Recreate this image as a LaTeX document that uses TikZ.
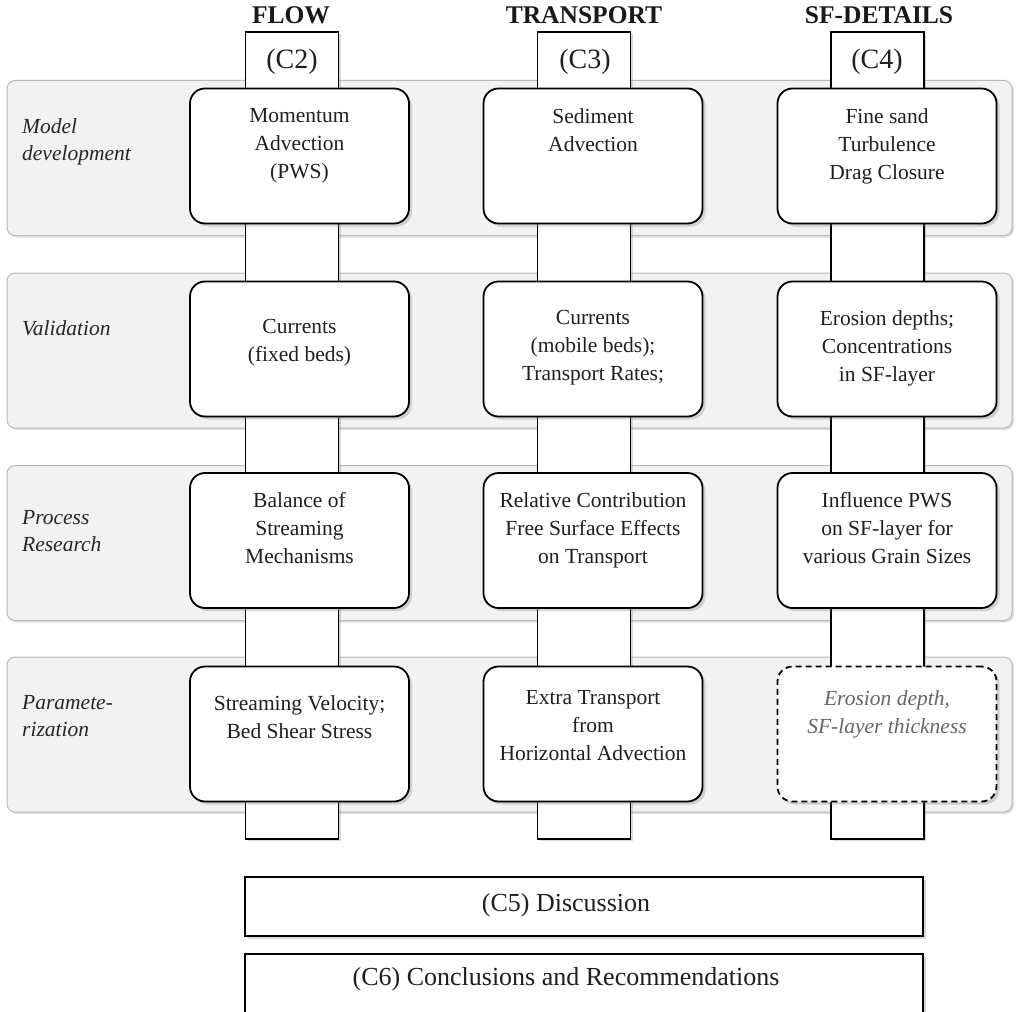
\documentclass[tikz,border=0pt]{standalone}
\usepackage{fontspec}
\setmainfont{Liberation Serif}
\usetikzlibrary{shadows}
\begin{document}
\begin{tikzpicture}[x=1pt,y=-1pt,
  panel/.style={draw=gray!55, line width=1pt, fill=gray!10, rounded corners=8pt, inner sep=0pt,
    minimum width=1005pt, minimum height=155pt,
    drop shadow={shadow xshift=2pt, shadow yshift=-2pt, opacity=0.25}},
  colbar/.style={draw=black, line width=1.8pt, fill=white, inner sep=0pt,
    minimum width=93pt, minimum height=807pt,
    drop shadow={shadow xshift=2pt, shadow yshift=-2pt, opacity=0.3}},
  taskbox/.style={draw=black, line width=1.8pt, fill=white, rounded corners=15pt, inner sep=0pt,
    minimum width=219pt, minimum height=135pt,
    drop shadow={shadow xshift=3pt, shadow yshift=-3pt, opacity=0.3}},
  openbox/.style={taskbox, dashed, dash pattern=on 6pt off 4pt, line width=1.8pt},
  wide/.style={draw=black, line width=2.2pt, fill=white, inner sep=0pt,
    minimum width=678pt,
    drop shadow={shadow xshift=3pt, shadow yshift=-3pt, opacity=0.3}},
  txt/.style={inner sep=0pt, align=center, text=black!88,
    font=\fontsize{21.5}{28}\selectfont,
    execute at begin node=\strut, execute at end node=\strut},
  grytxt/.style={txt, text=black!60, font=\fontsize{21.5}{28}\selectfont\itshape},
  rowlab/.style={inner sep=0pt, align=left, anchor=west, text=black!85,
    font=\fontsize{21.5}{27}\selectfont\itshape,
    execute at begin node=\strut, execute at end node=\strut},
  head/.style={inner sep=0pt, text=black!90, font=\fontsize{25.5}{30}\selectfont\bfseries},
  chap/.style={inner sep=0pt, text=black!88, font=\fontsize{28}{32}\selectfont},
  widetxt/.style={inner sep=0pt, text=black!88, font=\fontsize{26}{30}\selectfont}
]
\useasboundingbox (0,0) rectangle (1016,1011);

% row panels
\node[panel] (p1) at (509.5,158) {};
\node[panel] (p2) at (509.5,350.5) {};
\node[panel] (p3) at (509.5,543) {};
\node[panel] (p4) at (509.5,734.5) {};

% column bars
\node[colbar] (bflow) at (292,435.5) {};
\node[colbar] (btrans) at (584,435.5) {};
\node[colbar] (bsf) at (877.5,435.5) {};

% headers
\node[head] (hflow) at (291,15) {FLOW};
\node[head] (htrans) at (584,15) {TRANSPORT};
\node[head] (hsf) at (879,15) {SF-DETAILS};
\node[chap] (c2) at (292,62) {(C2)};
\node[chap] (c3) at (585,62) {(C3)};
\node[chap] (c4) at (877,62) {(C4)};

% row labels
\node[rowlab] (l1) at (22,144) {Model\\development};
\node[rowlab] (l2) at (22,330) {Validation};
\node[rowlab] (l3) at (22,535) {Process\\Research};
\node[rowlab] (l4) at (22,720) {Paramete-\\rization};

% row 1
\node[taskbox] (f1) at (299.5,156) {};
\node[taskbox] (t1) at (593,156) {};
\node[taskbox] (s1) at (887,156) {};
\node[txt] (f1t) at (299.5,148) {Momentum\\Advection\\(PWS)};
\node[txt] (t1t) at (593,134) {Sediment\\Advection};
\node[txt] (s1t) at (887,148) {Fine sand\\Turbulence\\Drag Closure};

% row 2
\node[taskbox] (f2) at (299.5,349) {};
\node[taskbox] (t2) at (593,349) {};
\node[taskbox] (s2) at (887,349) {};
\node[txt] (f2t) at (299.5,345) {Currents\\(fixed beds)};
\node[txt] (t2t) at (593,350) {Currents\\(mobile beds);\\Transport Rates;};
\node[txt] (s2t) at (887,350) {Erosion depths;\\Concentrations\\in SF-layer};

% row 3
\node[taskbox] (f3) at (299.5,540.5) {};
\node[taskbox] (t3) at (593,540.5) {};
\node[taskbox] (s3) at (887,540.5) {};
\node[txt] (f3t) at (299.5,532) {Balance of\\Streaming\\Mechanisms};
\node[txt] (t3t) at (593,532) {Relative Contribution\\Free Surface Effects\\on Transport};
\node[txt] (s3t) at (887,532) {Influence PWS\\on SF-layer for\\various Grain Sizes};

% row 4
\node[taskbox] (f4) at (299.5,734) {};
\node[taskbox] (t4) at (593,734) {};
\node[openbox] (s4) at (887,734) {};
\node[txt] (f4t) at (299.5,721.5) {Streaming Velocity;\\Bed Shear Stress};
\node[txt] (t4t) at (593,730) {Extra Transport\\from\\Horizontal Advection};
\node[grytxt] (s4t) at (887,716.5) {Erosion depth,\\SF-layer thickness};

% bottom chapters
\node[wide, minimum height=59pt] (c5) at (584,906.5) {};
\node[widetxt] (c5t) at (566,905) {(C5) Discussion};
\node[wide, minimum height=80pt] (c6) at (584,994) {};
\node[widetxt] (c6t) at (566,979) {(C6) Conclusions and Recommendations};
\end{tikzpicture}
\end{document}
